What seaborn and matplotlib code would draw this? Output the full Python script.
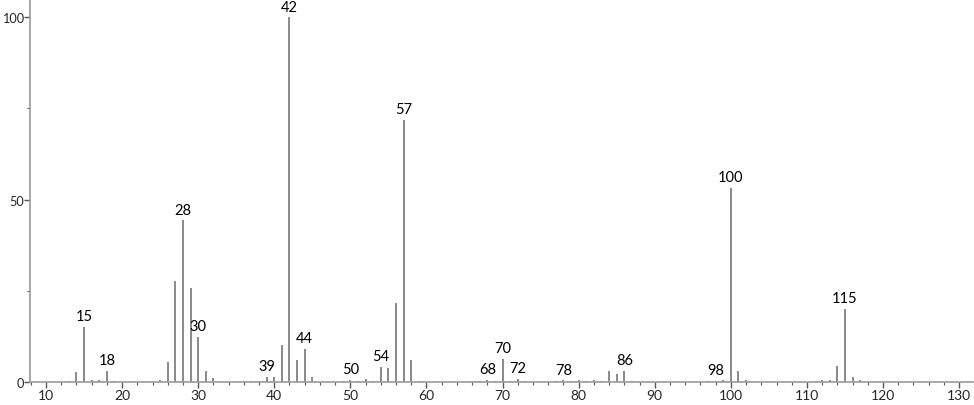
import matplotlib
matplotlib.use("Agg")
import matplotlib.pyplot as plt
import seaborn as sns
import pandas as pd

# m/z values and relative intensities
mz = [13, 14, 15, 16, 17, 18, 19, 25, 26, 27, 28, 29, 30, 31, 32,
      36, 37, 38, 39, 40, 41, 42, 43, 44, 45,
      49, 50, 51, 52, 53, 54, 55, 56, 57, 58, 59,
      66, 67, 68, 69, 70, 71, 72, 73,
      77, 78, 79, 80, 81, 82, 83, 84, 85, 86, 87,
      97, 98, 99, 100, 101, 102,
      112, 113, 114, 115, 116, 117]
intensity = [0.4, 2.8, 15.2, 0.6, 0.6, 3.0, 0.4, 0.5, 5.6, 27.8, 44.3, 25.8, 12.3, 2.9, 1.2,
             0.3, 0.4, 0.4, 1.5, 1.3, 10.2, 100.0, 6.0, 9.1, 1.4,
             0.3, 0.6, 0.3, 0.7, 0.4, 4.2, 3.7, 21.7, 71.8, 6.1, 0.4,
             0.3, 0.4, 0.6, 0.3, 6.4, 0.4, 0.9, 0.3,
             0.3, 0.5, 0.3, 0.6, 0.4, 0.6, 0.3, 2.9, 2.2, 3.1, 0.4,
             0.3, 0.4, 0.6, 53.3, 3.1, 0.6,
             0.5, 0.6, 4.4, 20.1, 1.4, 0.5]

# peaks that carry a number above them
labelled = [15, 18, 28, 30, 39, 42, 44, 50, 54, 57, 68, 70, 72, 78, 86, 98, 100, 115]

df = pd.DataFrame({"mz": mz, "intensity": intensity})

sns.set_style("white")
plt.rcParams["font.family"] = ["Lato", "DejaVu Sans"]

fig = plt.figure(figsize=(9.74, 4.06), dpi=100)
ax = fig.add_axes([0.0308, 0.0567, 0.968, 0.9433])

sns.barplot(data=df, x="mz", y="intensity", native_scale=True, width=0.26,
            color="#8c8c8c", saturation=1, linewidth=0, ax=ax)

for m, h in zip(mz, intensity):
    if m in labelled:
        ax.text(m, h + 1.0, str(m), ha="center", va="bottom", fontsize=10.5, color="black")

ax.set_xlim(7.9, 131.8)
ax.set_ylim(0, 105)
ax.set_xticks(range(10, 131, 10))
ax.set_xticks([t for t in range(8, 132, 2) if t % 10], minor=True)
ax.set_yticks([0, 50, 100])
ax.set_yticks([25, 75], minor=True)
ax.set_xlabel("")
ax.set_ylabel("")

for side in ["top", "right"]:
    ax.spines[side].set_visible(False)
for side in ["left", "bottom"]:
    ax.spines[side].set_color("#9a9a9a")
    ax.spines[side].set_linewidth(1.2)

ax.tick_params(axis="both", which="major", direction="out", length=4, width=1,
               color="#555555", pad=1, bottom=True, left=True)
ax.tick_params(axis="x", which="major", labelsize=10)
ax.tick_params(axis="y", which="major", labelsize=9.2, pad=0.5)
ax.tick_params(axis="both", which="minor", direction="out", length=2.5, width=0.8,
               color="#555555", bottom=True, left=True)

fig.savefig("out.png", dpi=100)
